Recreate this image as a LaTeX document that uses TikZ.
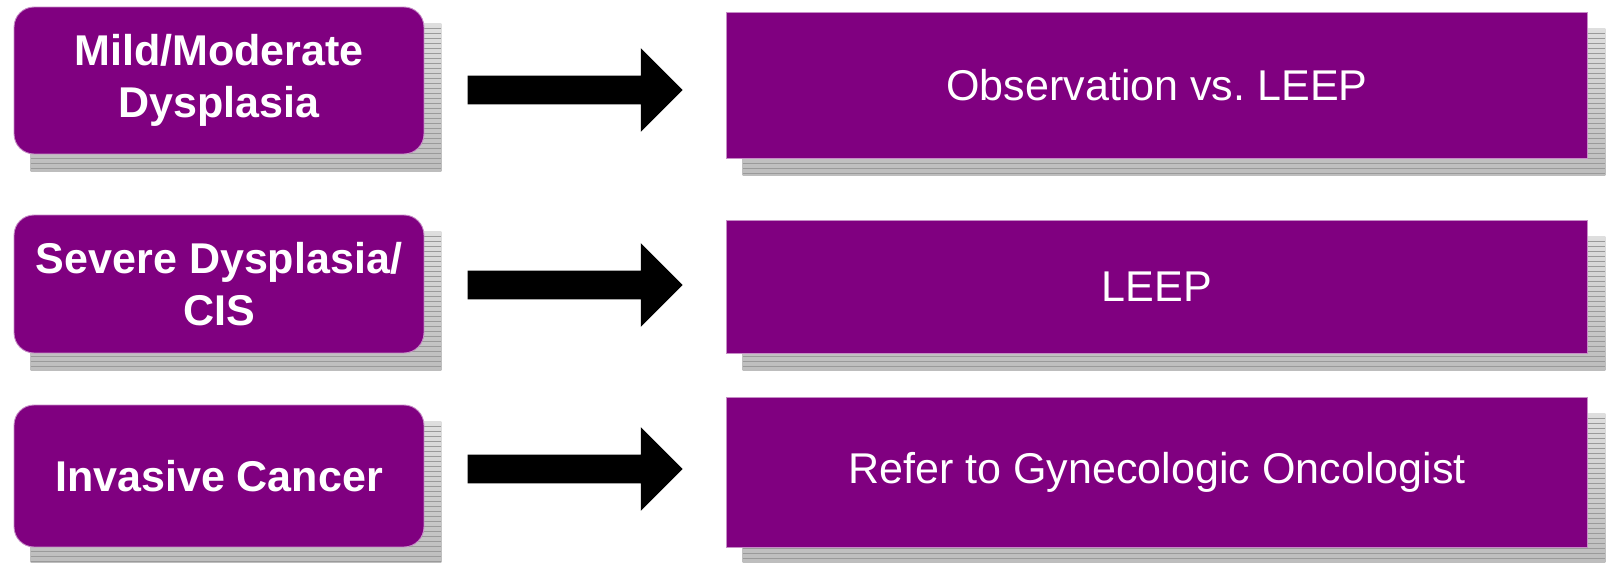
\documentclass[tikz,border=0pt]{standalone}
\usepackage{fontspec}
\setmainfont{Liberation Sans}
\usetikzlibrary{shapes.arrows,backgrounds,calc}

\definecolor{plum}{HTML}{800080}
\definecolor{shadetop}{HTML}{DEDEDE}
\definecolor{shadebot}{HTML}{BDBDBD}
\definecolor{stripe}{HTML}{9A9A9A}

\tikzset{
    stage/.style={fill=plum, draw=white!55!plum, line width=0.5pt, rounded corners=0.4cm,
        text=white, font=\fontsize{24.5}{29.6}\selectfont\bfseries, align=center,
        minimum width=8.2cm, inner sep=0pt},
    action/.style={fill=plum, draw=white!55!plum, line width=0.5pt,
        text=white, font=\fontsize{24.5}{29.6}\selectfont, align=center,
        minimum width=17.24cm, inner sep=0pt},
    bigarrow/.style={single arrow, fill=black, draw=none, minimum height=4.3cm,
        single arrow head extend=0.55cm, single arrow tip angle=90,
        single arrow head indent=0pt, inner xsep=0pt, inner ysep=0.28cm,
        minimum width=0pt, outer sep=0pt}
}

% striped drop shadow behind a named box
\newcommand{\stripeshadow}[1]{%
    \begin{scope}
        \coordinate (sa) at ($(#1.north west)+(17,17)$);
        \coordinate (sb) at ($(#1.south east)+(17,17)$);
        \clip (sa) rectangle (sb);
        \shade[top color=shadetop, bottom color=shadebot] (sa) rectangle (sb);
        \foreach \k in {1,...,32} {
            \draw[stripe, line width=0.5pt] ($(sa)+(0,5*\k)$) -- ($(sb |- sa)+(0,5*\k)$);
        }
    \end{scope}
}

\begin{document}
\begin{tikzpicture}[x=0.02cm, y=-0.02cm]
    \useasboundingbox (0,0) rectangle (1610,563);

    \node[stage, minimum height=2.94cm] (mild) at (219,80.5) {Mild/Moderate\\Dysplasia};
    \node[stage, minimum height=2.76cm] (severe) at (219,284) {Severe Dysplasia/\\CIS};
    \node[stage, minimum height=2.84cm] (cancer) at (219,476) {Invasive Cancer};

    \node[action, minimum height=2.92cm] (obs) at (1157,85) {Observation vs.\ LEEP};
    \node[action, minimum height=2.66cm] (leep) at (1157,286.5) {LEEP};
    \node[action, minimum height=3.0cm] (refer) at (1157,472) {Refer to Gynecologic Oncologist};

    \node[bigarrow] (a1) at (568,90) {};
    \node[bigarrow] (a2) at (568,285) {};
    \node[bigarrow] (a3) at (568,469) {};

    \begin{scope}[on background layer]
        \foreach \b in {mild,severe,cancer,obs,leep,refer} {
            \stripeshadow{\b}
        }
    \end{scope}
\end{tikzpicture}
\end{document}
